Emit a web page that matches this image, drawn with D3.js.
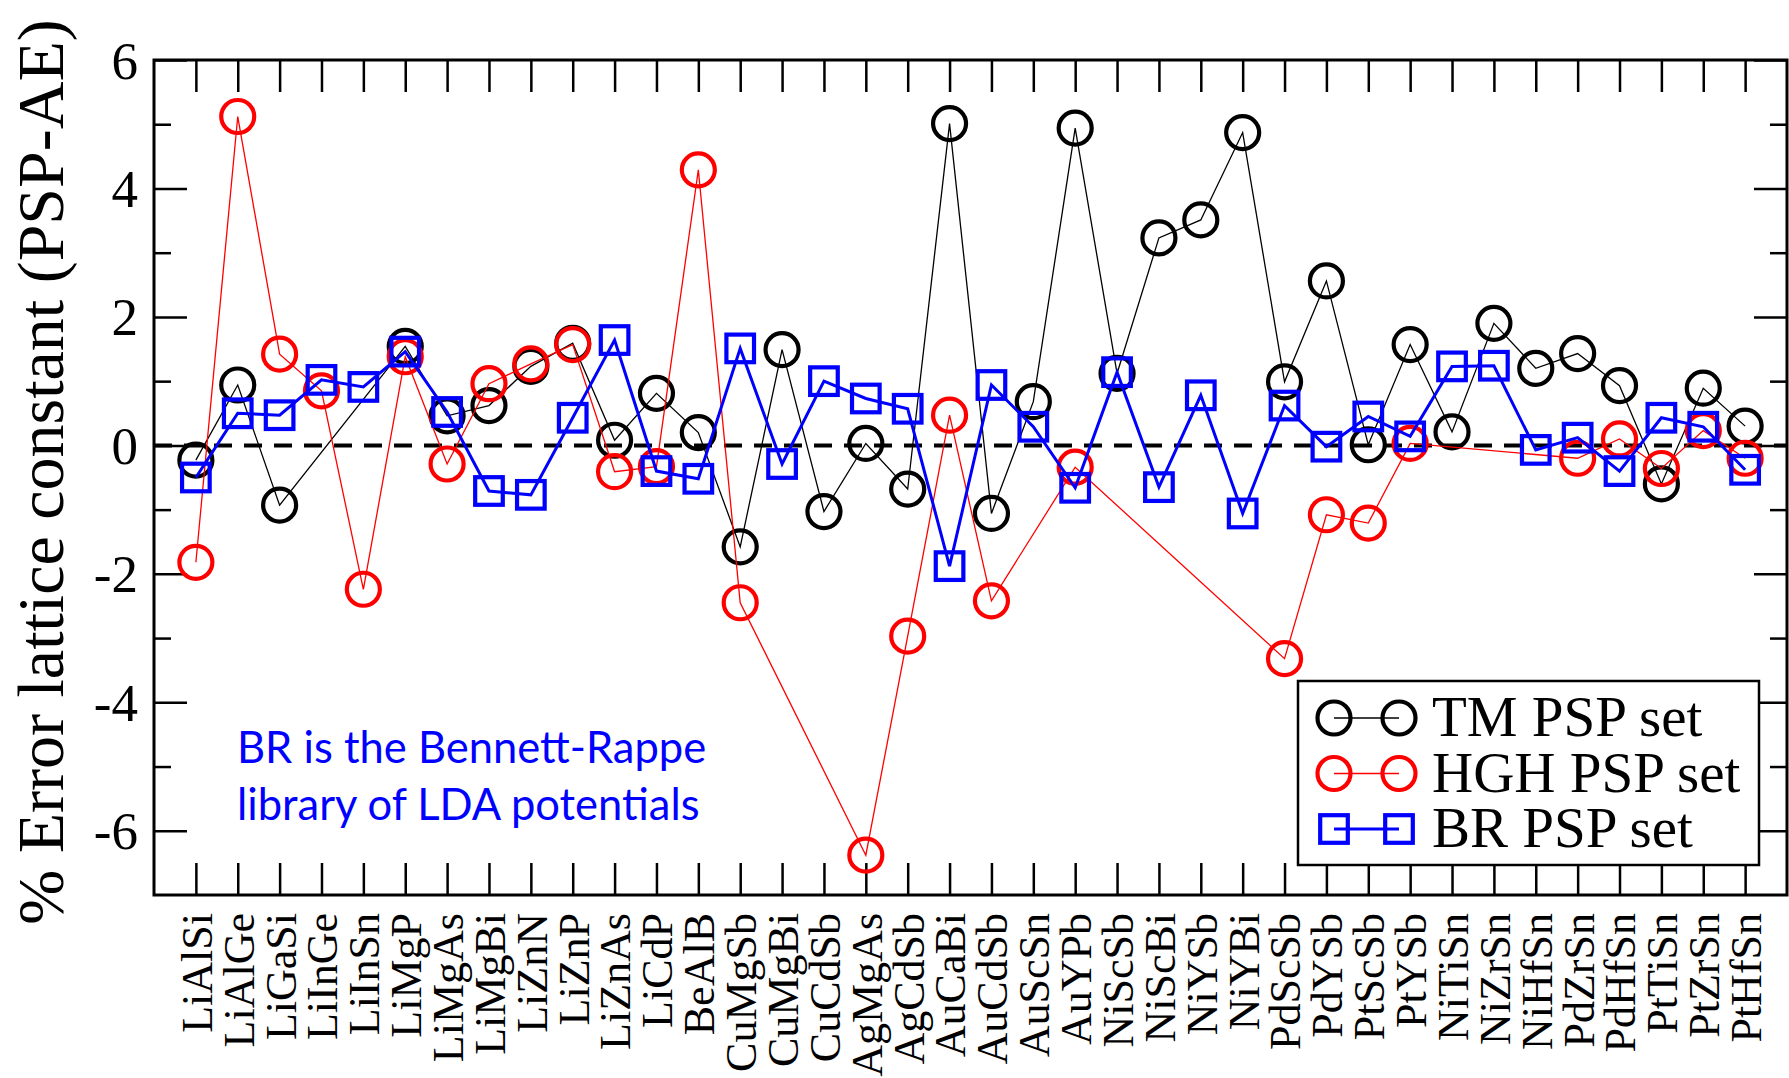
<!DOCTYPE html>
<html>
<head>
<meta charset="utf-8">
<script src="https://cdn.jsdelivr.net/npm/d3@7"></script>
<style>
  html, body { margin: 0; padding: 0; background: #fff; }
  svg { display: block; }
</style>
</head>
<body>
<svg id="chart" width="1789" height="1078"></svg>
<script>
// Compounds along the x axis
const compounds = [
  "LiAlSi", "LiAlGe", "LiGaSi", "LiInGe", "LiInSn", "LiMgP", "LiMgAs", "LiMgBi",
  "LiZnN", "LiZnP", "LiZnAs", "LiCdP", "BeAlB", "CuMgSb", "CuMgBi", "CuCdSb",
  "AgMgAs", "AgCdSb", "AuCaBi", "AuCdSb", "AuScSn", "AuYPb", "NiScSb", "NiScBi",
  "NiYSb", "NiYBi", "PdScSb", "PdYSb", "PtScSb", "PtYSb", "NiTiSn", "NiZrSn",
  "NiHfSn", "PdZrSn", "PdHfSn", "PtTiSn", "PtZrSn", "PtHfSn"
];

// % error of the lattice constant (PSP - AE); null = not computed
const tmErrors = [
  -0.23, 0.94, -0.93, null, null, 1.54, 0.46, 0.62,
  1.23, 1.59, 0.08, 0.81, 0.20, -1.58, 1.49, -1.03,
  0.03, -0.68, 5.01, -1.06, 0.68, 4.94, 1.12, 3.23,
  3.51, 4.87, 0.99, 2.56, 0.01, 1.57, 0.21, 1.90,
  1.20, 1.43, 0.93, -0.60, 0.89, 0.30
];
const hghErrors = [
  -1.82, 5.12, 1.42, 0.85, -2.24, 1.38, -0.29, 0.96,
  1.27, 1.57, -0.41, -0.33, 4.29, -2.45, null, null,
  -6.38, -2.97, 0.47, -2.42, null, -0.34, null, null,
  null, null, -3.32, -1.08, -1.21, 0.03, null, null,
  null, -0.20, 0.10, -0.36, 0.23, -0.20
];
const brErrors = [
  -0.50, 0.50, 0.47, 1.02, 0.91, 1.46, 0.52, -0.71,
  -0.77, 0.43, 1.64, -0.40, -0.52, 1.51, -0.29, 1.00,
  0.73, 0.57, -1.88, 0.94, 0.29, -0.66, 1.14, -0.65,
  0.78, -1.06, 0.62, -0.02, 0.45, 0.14, 1.23, 1.24,
  -0.07, 0.12, -0.40, 0.43, 0.29, -0.38
];

const seriesNames = ["TM PSP set", "HGH PSP set", "BR PSP set"];
const yMajorTicks = [-6, -4, -2, 0, 2, 4, 6];
const yMinorTicks = [-5, -3, -1, 1, 3, 5];
const yTitle = "% Error lattice constant (PSP-AE)";
const noteLines = ["BR is the Bennett-Rappe", "library of LDA potentials"];

const serif = "'Liberation Serif', 'Times New Roman', Times, serif";

const svg = d3.select("#chart");
const plotL = 154, plotR = 1787, plotT = 60, plotB = 895;

const x = d3.scaleLinear().domain([0, compounds.length + 1]).range([plotL, plotR]);
const y = d3.scaleLinear().domain([-7, 6]).range([plotB, plotT]);

// zero reference line
svg.append("line")
  .attr("x1", plotL).attr("x2", plotR)
  .attr("y1", y(0)).attr("y2", y(0))
  .attr("stroke", "#000").attr("stroke-width", 4)
  .attr("stroke-dasharray", "18,12");

// axes with inward ticks
const xIdx = d3.range(1, compounds.length + 1);

const gx = svg.append("g").attr("transform", `translate(0,${plotB})`)
  .call(d3.axisBottom(x).tickValues(xIdx).tickSize(-32).tickSizeOuter(0)
    .tickFormat(i => compounds[i - 1]));
gx.selectAll("text")
  .attr("transform", "rotate(-90)")
  .attr("x", -18).attr("y", 0).attr("dy", "0.35em")
  .style("text-anchor", "end")
  .style("font-family", serif).style("font-size", "44px").attr("fill", "#000");

svg.append("g").attr("transform", `translate(0,${plotT})`)
  .call(d3.axisTop(x).tickValues(xIdx).tickSize(-32).tickSizeOuter(0).tickFormat(""));

// y tick labels use a plain hyphen for negatives
const gy = svg.append("g").attr("transform", `translate(${plotL},0)`)
  .call(d3.axisLeft(y).tickValues(yMajorTicks).tickSize(-33).tickSizeOuter(0).tickPadding(16)
    .tickFormat(d => String(d)));
gy.selectAll("text")
  .style("font-family", serif).style("font-size", "53px").attr("fill", "#000")
  .attr("dy", "0.34em");
svg.append("g").attr("transform", `translate(${plotL},0)`)
  .call(d3.axisLeft(y).tickValues(yMinorTicks).tickSize(-17).tickSizeOuter(0).tickFormat(""));
svg.append("g").attr("transform", `translate(${plotR},0)`)
  .call(d3.axisRight(y).tickValues(yMajorTicks).tickSize(-33).tickSizeOuter(0).tickFormat(""));
svg.append("g").attr("transform", `translate(${plotR},0)`)
  .call(d3.axisRight(y).tickValues(yMinorTicks).tickSize(-17).tickSizeOuter(0).tickFormat(""));

svg.selectAll(".tick line").attr("stroke", "#000").attr("stroke-width", 2.5);
svg.selectAll(".domain").remove();

// frame
svg.append("rect")
  .attr("x", plotL).attr("y", plotT)
  .attr("width", plotR - plotL).attr("height", plotB - plotT)
  .attr("fill", "none").attr("stroke", "#000").attr("stroke-width", 3);

// y title
svg.append("text")
  .attr("transform", `translate(63,472) rotate(-90)`)
  .attr("text-anchor", "middle")
  .style("font-family", serif).style("font-size", "66px")
  .text(yTitle);

// series
const series = [
  { name: seriesNames[0], values: tmErrors, color: "#000000", lineWidth: 1.3, shape: "circle" },
  { name: seriesNames[1], values: hghErrors, color: "#ff0000", lineWidth: 1.3, shape: "circle" },
  { name: seriesNames[2], values: brErrors, color: "#0000ff", lineWidth: 3, shape: "square" }
];

const line = d3.line().x(d => x(d.i)).y(d => y(d.v));
const R = 16.5, H = 13.8;

function drawMarker(g, shape, cx, cy, color) {
  if (shape === "circle") {
    g.append("circle").attr("cx", cx).attr("cy", cy).attr("r", R)
      .attr("fill", "none").attr("stroke", color).attr("stroke-width", 4.2);
  } else {
    g.append("rect").attr("x", cx - H).attr("y", cy - H)
      .attr("width", 2 * H).attr("height", 2 * H)
      .attr("fill", "none").attr("stroke", color).attr("stroke-width", 4.2);
  }
}

series.forEach(s => {
  const pts = s.values.map((v, k) => ({ i: k + 1, v })).filter(d => d.v !== null);
  const g = svg.append("g");
  g.append("path").datum(pts).attr("d", line)
    .attr("fill", "none").attr("stroke", s.color).attr("stroke-width", s.lineWidth)
    .attr("stroke-linejoin", "miter");
  pts.forEach(d => drawMarker(g, s.shape, x(d.i), y(d.v), s.color));
});

// legend
const lg = svg.append("g");
lg.append("rect").attr("x", 1298).attr("y", 681).attr("width", 461).attr("height", 184)
  .attr("fill", "#fff").attr("stroke", "#000").attr("stroke-width", 2.5);
series.forEach((s, k) => {
  const cy = 718 + k * 55.5;
  lg.append("line").attr("x1", 1334).attr("x2", 1399).attr("y1", cy).attr("y2", cy)
    .attr("stroke", s.color).attr("stroke-width", s.lineWidth);
  drawMarker(lg, s.shape, 1334, cy, s.color);
  drawMarker(lg, s.shape, 1399, cy, s.color);
  lg.append("text").attr("x", 1432).attr("y", cy + 18)
    .style("font-family", serif).style("font-size", "57px").text(s.name);
});

// note
svg.append("g").selectAll("text").data(noteLines).join("text")
  .attr("x", 237).attr("y", (d, k) => 763 + k * 57)
  .attr("fill", "#0000ff")
  .style("font-family", "Lato, 'Open Sans', sans-serif").style("font-size", "43.5px")
  .text(d => d);
</script>
</body>
</html>
